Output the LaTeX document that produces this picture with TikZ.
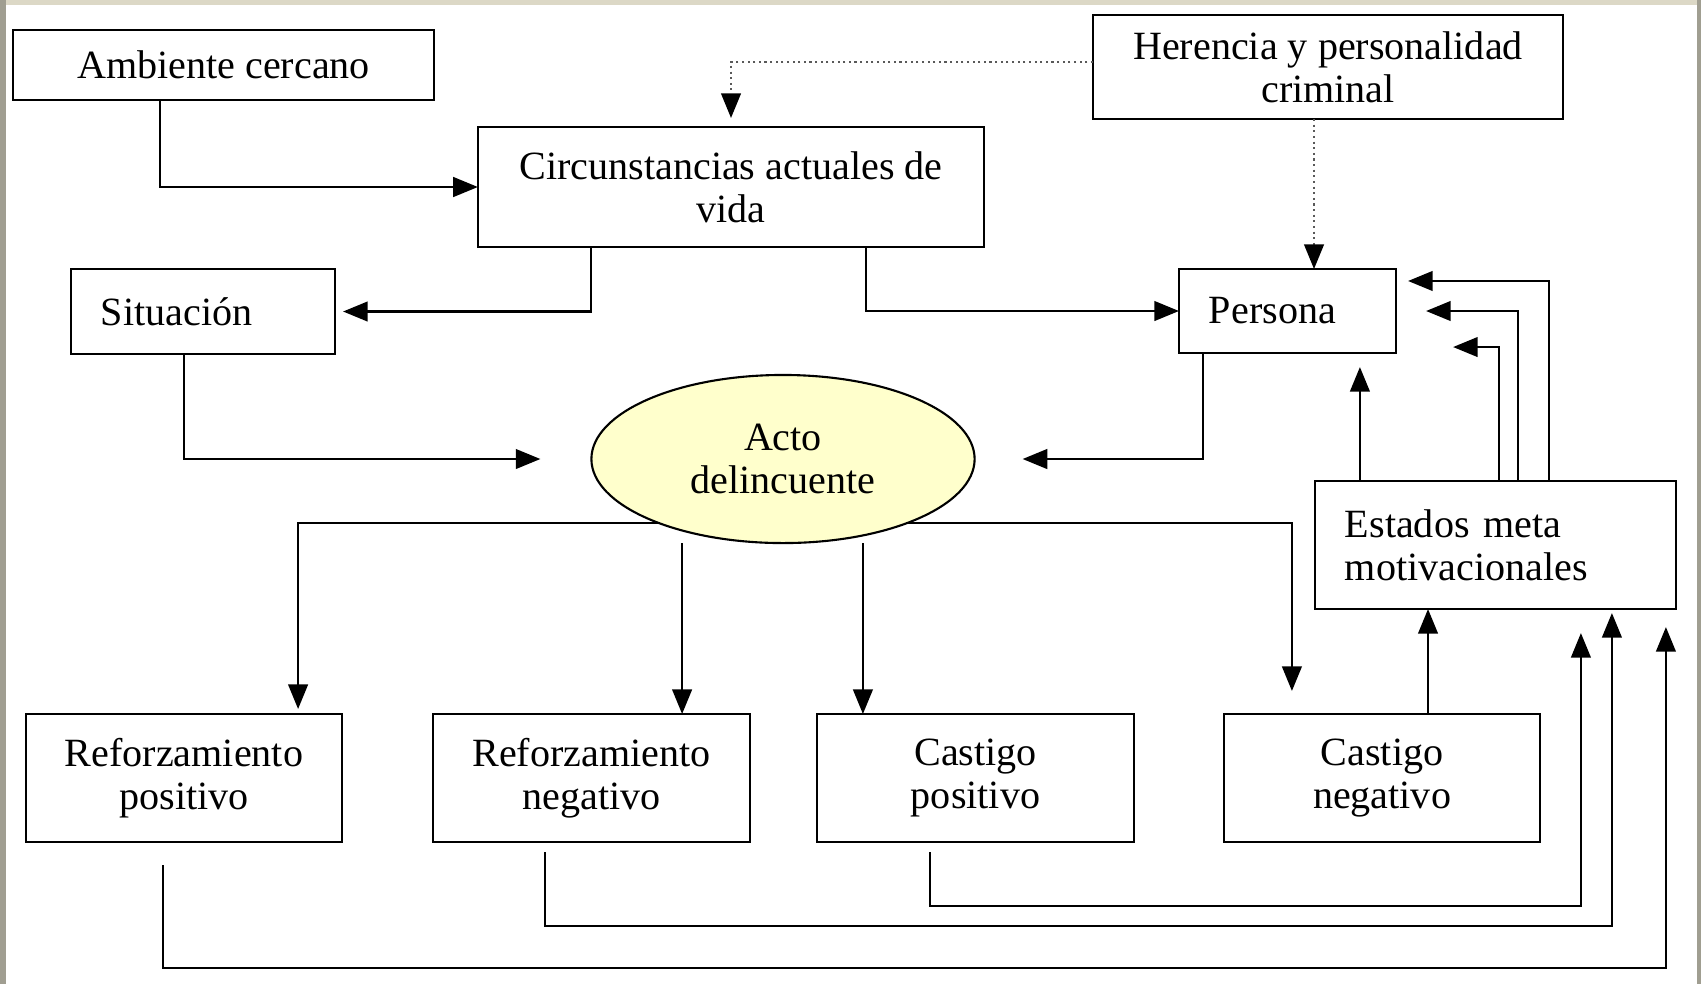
\documentclass[tikz,border=0pt]{standalone}
\usepackage{fontspec}
\setmainfont{Liberation Serif}
\usetikzlibrary{positioning}
\usetikzlibrary{calc}
\usetikzlibrary{arrows.meta}
\usetikzlibrary{shapes.geometric}
\definecolor{amarillo}{RGB}{255,255,204}
\definecolor{marcoizq}{RGB}{160,158,145}
\definecolor{marcosup}{RGB}{220,216,198}

\begin{document}
\begin{tikzpicture}[x = 0.01cm, y = -0.01cm, line width = 0.6pt, font = \fontsize{11.4}{12.3}\selectfont,
	caja/.style = {draw, black, rectangle, inner sep = 0pt, outer sep = 0pt, align = center},
	cajaizq/.style = {caja, align = left, inner xsep = 0.3cm},
	flecha/.style = {-{Triangle[length = 7pt, width = 5.6pt, color = black]}},
	punteado/.style = {densely dotted, gray!70!black}]
				\fill[white] (0, 0) rectangle (1701, 984);
				\useasboundingbox (0, 0) rectangle (1701, 984);
				\fill[marcosup] (0, 0) rectangle (1701, 5);
				\fill[marcoizq] (0, 0) rectangle (6, 984);
				\fill[marcoizq] (1697, 0) rectangle (1701, 984);
				\node[caja, minimum width = 4.21cm, minimum height = 0.7cm] (amb) at (223.5, 65) {Ambiente cercano};
				\node[caja, minimum width = 4.7cm, minimum height = 1.04cm] (her) at (1328, 67) {Herencia y personalidad\\criminal};
				\node[caja, minimum width = 5.06cm, minimum height = 1.2cm] (circ) at (731, 187) {Circunstancias actuales de\\vida};
				\node[cajaizq, text width = 2.04cm, minimum height = 0.85cm] (sit) at (203, 311.5) {Situación};
				\node[cajaizq, text width = 1.57cm, minimum height = 0.84cm] (per) at (1287.5, 311) {Persona};
				\node[ellipse, draw, fill = amarillo, minimum width = 3.83cm, minimum height = 1.68cm, inner sep = 0pt, outer sep = 0pt, align = center] (acto) at (783, 459) {Acto\\delincuente};
				\node[cajaizq, text width = 3.01cm, minimum height = 1.28cm] (est) at (1495.5, 545) {Estados meta\\motivacionales};
				\node[caja, minimum width = 3.16cm, minimum height = 1.28cm] (rp) at (184, 778) {Reforzamiento\\positivo};
				\node[caja, minimum width = 3.17cm, minimum height = 1.28cm] (rn) at (591.5, 778) {Reforzamiento\\negativo};
				\node[caja, minimum width = 3.17cm, minimum height = 1.28cm] (cp) at (975.5, 778) {Castigo\\positivo};
				\node[caja, minimum width = 3.16cm, minimum height = 1.28cm] (cn) at (1382, 778) {Castigo\\negativo};
				\coordinate (amb1) at ($(amb.south west)+(147, 0)$);
				\coordinate (her1) at ($(her.west)+(0, -5)$);
				\coordinate (her2) at ($(her.south)+(-14, 0)$);
				\coordinate (circ1) at ($(circ.south west)+(113, 0)$);
				\coordinate (circ2) at ($(circ.south west)+(388, 0)$);
				\coordinate (sit1) at ($(sit.south west)+(113, 0)$);
				\coordinate (per1) at ($(per.south west)+(24, 0)$);
				\coordinate (per2) at ($(per.north east)+(0, 12)$);
				\coordinate (per3) at ($(per.south east)+(0, -6)$);
				\coordinate (rp1) at ($(rp.north east)+(-44, 0)$);
				\coordinate (rn1) at ($(rn.north east)+(-68, 0)$);
				\coordinate (cp1) at ($(cp.north west)+(46, 0)$);
				\coordinate (cn1) at ($(cn.north west)+(68, 0)$);
				\coordinate (cn2) at ($(cn.north)+(46, 0)$);
				\coordinate (est1) at ($(est.north west)+(45, 0)$);
				\coordinate (est2) at ($(est.north west)+(234, 0)$);
				\coordinate (est3) at ($(est.north west)+(203, 0)$);
				\coordinate (est4) at ($(est.north west)+(184, 0)$);
				\coordinate (est5) at ($(est.south west)+(266, 0)$);
				\coordinate (est6) at ($(est.south west)+(297, 0)$);
				\coordinate (est7) at ($(est.south west)+(351, 0)$);
				\coordinate (rp2) at ($(rp.south west)+(137, 0)$);
				\coordinate (rn2) at ($(rn.south west)+(112, 0)$);
				\coordinate (cp2) at ($(cp.south west)+(113, 0)$);
				\draw[black, flecha] (amb1)|-(circ.west);
				\draw[flecha, punteado, shorten >= 0.09cm] (her1)-|(circ.north);
				\draw[flecha, punteado] (her2)--(her2 |- per.north);
				\draw[black, flecha, shorten >= 0.08cm] (circ1)|-(sit.east);
				\draw[black, flecha] (circ2)|-(per.west);
				\draw[black, flecha, shorten >= 0.51cm] (sit1)|-(acto.west);
				\draw[black, flecha, shorten >= 0.48cm] (per1)|-(acto.east);
				\draw[black, flecha, shorten >= 0.05cm] (acto.207)-|(rp1);
				\draw[black, flecha] (acto.south -| rn1)--(rn1);
				\draw[black, flecha] (acto.south -| cp1)--(cp1);
				\draw[black, flecha, shorten >= 0.23cm] (acto.333)-|(cn1);
				\draw[black, flecha] (cn2)--(cn2 |- est.south);
				\draw[black, flecha, shorten >= 0.14cm] (est1)--(est1 |- per.south);
				\draw[black, flecha, shorten >= 0.12cm] (est2)|-(per2);
				\draw[black, flecha, shorten >= 0.3cm] (est3)|-(per.east);
				\draw[black, flecha, shorten >= 0.57cm] (est4)|-(per3);
				\draw[black, flecha, shorten <= 0.1cm, shorten >= 0.24cm] (cp2)--++(0, 64)-|(est5);
				\draw[black, flecha, shorten <= 0.1cm, shorten >= 0.04cm] (rn2)--++(0, 84)-|(est6);
				\draw[black, flecha, shorten <= 0.23cm, shorten >= 0.18cm] (rp2)--++(0, 126)-|(est7);
			\end{tikzpicture}
\end{document}
